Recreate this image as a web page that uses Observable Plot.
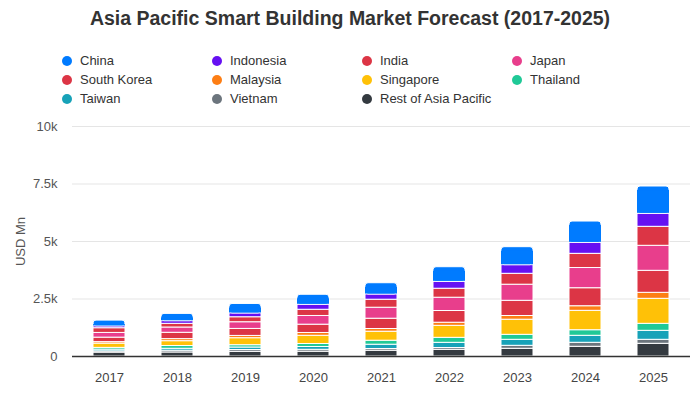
<!DOCTYPE html>
<html><head><meta charset="utf-8">
<script src="https://cdn.jsdelivr.net/npm/d3@7"></script>
<script src="https://cdn.jsdelivr.net/npm/@observablehq/plot@0.6"></script>
<style>
body{margin:0;font-family:"Liberation Sans",Arial,sans-serif;background:#fff;}
#wrap{position:relative;width:700px;height:400px;overflow:hidden;}
#title{position:absolute;top:7px;left:0;width:700px;text-align:center;font-weight:bold;font-size:19.5px;line-height:22px;color:#333;}
.li{position:absolute;font-size:13px;line-height:16px;color:#333;white-space:nowrap;}
.li span{display:inline-block;width:10px;height:10px;border-radius:50%;margin-right:8px;vertical-align:-1px;}
#chart{position:absolute;top:110px;left:0;}
</style></head>
<body>
<div id="wrap">
  <div id="title">Asia Pacific Smart Building Market Forecast (2017-2025)</div>
  <div id="legend"></div>
  <div id="chart"></div>
</div>
<script>
const years = ["2017","2018","2019","2020","2021","2022","2023","2024","2025"];
const series = ["China","Indonesia","India","Japan","South Korea","Malaysia","Singapore","Thailand","Taiwan","Vietnam","Rest of Asia Pacific"];
const china       = [250, 317, 413, 435, 491, 635, 783, 926, 1187];
const indonesia   = [80, 115, 165, 217, 226, 300, 374, 478, 565];
const india       = [205, 160, 217, 270, 348, 391, 474, 617, 826];
const japan       = [205, 230, 291, 378, 478, 578, 700, 878, 1087];
const southKorea  = [195, 275, 304, 361, 448, 509, 661, 783, 957];
const malaysia    = [65, 90, 100, 122, 117, 135, 161, 200, 261];
const singapore   = [185, 210, 304, 357, 391, 522, 657, 843, 1087];
const thailand    = [75, 120, 100, 130, 174, 217, 217, 243, 304];
const taiwan      = [75, 83, 109, 122, 187, 226, 261, 304, 391];
const vietnam     = [55, 78, 78, 83, 74, 78, 130, 174, 174];
const restOfAPAC  = [170, 175, 204, 209, 252, 291, 335, 422, 552];
const yTicks = [0, 2500, 5000, 7500, 10000];
const yTickLabels = ["0", "2.5k", "5k", "7.5k", "10k"];

const colors = ["#007bff","#6610f2","#dc3545","#e83e8c","#dc3545","#fd7e14","#ffc107","#20c997","#17a2b8","#6c757d","#343a40"];
const seriesValues = [china, indonesia, india, japan, southKorea, malaysia, singapore, thailand, taiwan, vietnam, restOfAPAC];
const colorOf = Object.fromEntries(series.map((s, i) => [s, colors[i]]));

// legend
const legend = document.getElementById("legend");
series.forEach((s, i) => {
  const d = document.createElement("div");
  d.className = "li";
  d.style.left = (62 + (i % 4) * 150) + "px";
  d.style.top = (53 + Math.floor(i / 4) * 19) + "px";
  d.innerHTML = `<span style="background:${colors[i]}"></span>${s}`;
  legend.appendChild(d);
});

// rows, bottom of stack first
const rows = [];
for (let k = series.length - 1; k >= 0; k--) {
  years.forEach((y, i) => rows.push({year: y, series: series[k], value: seriesValues[k][i]}));
}

const topSeries = series[0];
const stackOpts = {x: "year", y: "value", z: "series"};
const chart = Plot.plot({
  width: 700, height: 290,
  marginTop: 16, marginBottom: 44, marginLeft: 72, marginRight: 10,
  style: {fontFamily: '"Liberation Sans", Arial, sans-serif', fontSize: "13px", color: "#444", background: "white"},
  x: {domain: years, paddingInner: 0.53, paddingOuter: 0.3},
  y: {domain: [0, 10000]},
  marks: [
    Plot.gridY(yTicks, {stroke: "#e5e5e5", strokeOpacity: 1, strokeWidth: 1}),
    Plot.axisX({tickSize: 0, tickPadding: 16, label: null, fill: "#444"}),
    Plot.axisY(yTicks, {tickSize: 0, tickPadding: 15, tickFormat: (d, i) => yTickLabels[i], label: "USD Mn", labelAnchor: "center", labelOffset: 57, labelArrow: "none", fill: "#555"}),
    // all segments but the top one, square
    Plot.barY(rows, Plot.stackY({...stackOpts,
      fill: d => d.series === topSeries ? "none" : colorOf[d.series],
      stroke: d => d.series === topSeries ? "none" : "white", strokeWidth: 1})),
    // top segment with rounded corners
    Plot.barY(rows, Plot.stackY({...stackOpts,
      fill: d => d.series === topSeries ? colorOf[d.series] : "none",
      stroke: d => d.series === topSeries ? "white" : "none", strokeWidth: 1, rx: 3})),
    // square-off the bottom corners of the top segment
    Plot.barY(rows, Plot.stackY({...stackOpts,
      fill: d => d.series === topSeries ? colorOf[d.series] : "none",
      insetTop: 4, insetBottom: 0.5})),
    Plot.ruleY([0], {stroke: "#333", strokeWidth: 1.5})
  ]
});
document.getElementById("chart").appendChild(chart);
</script>
</body></html>
